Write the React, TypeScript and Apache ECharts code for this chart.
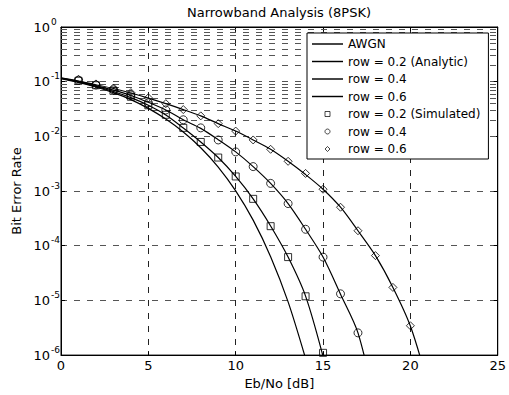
import React, { useEffect, useRef } from 'react';
import * as echarts from 'echarts';

// Eb/No points (dB)
const ebnoAwgn = [0, 1, 2, 3, 4, 5, 6, 7, 8, 9, 10, 11, 12, 13, 14];
const ebnoRow02 = [0, 1, 2, 3, 4, 5, 6, 7, 8, 9, 10, 11, 12, 13, 14, 15];
const ebnoRow04 = [0, 1, 2, 3, 4, 5, 6, 7, 8, 9, 10, 11, 12, 13, 14, 15, 16, 17, 18];
const ebnoRow06 = [0, 1, 2, 3, 4, 5, 6, 7, 8, 9, 10, 11, 12, 13, 14, 15, 16, 17, 18, 19, 20, 21];

// Analytic curves (BER)
const berAwgn = [0.114, 0.097, 0.080, 0.063, 0.047, 0.0325, 0.0207, 0.012, 0.0062, 0.00275, 0.00101, 2.94e-4, 6.3e-5, 9.4e-6, 8.7e-7];
const berRow02 = [0.115, 0.099, 0.082, 0.066, 0.051, 0.037, 0.0245, 0.0142, 0.0079, 0.0041, 0.00185, 7.2e-4, 2.3e-4, 6.2e-5, 1.2e-5, 9.5e-7];
const berRow04 = [0.116, 0.101, 0.085, 0.07, 0.056, 0.042, 0.0304, 0.0201, 0.014, 0.0087, 0.0052, 0.0028, 0.00138, 5.9e-4, 2.0e-4, 6.2e-5, 1.3e-5, 2.55e-6, 1.2e-7];
const berRow06 = [0.117, 0.103, 0.088, 0.075, 0.062, 0.05, 0.0396, 0.0309, 0.0237, 0.0171, 0.0125, 0.0086, 0.0058, 0.0035, 0.002, 0.00108, 5.06e-4, 1.88e-4, 6.6e-5, 1.73e-5, 3.4e-6, 3.0e-7];

// Simulated points
const simEbno02 = [1, 2, 3, 4, 5, 6, 7, 8, 9, 10, 11, 12, 13, 14, 15];
const simBer02 = [0.104, 0.086, 0.068, 0.053, 0.037, 0.0248, 0.0143, 0.0079, 0.0041, 0.00185, 7.2e-4, 2.28e-4, 6.2e-5, 1.19e-5, 1.1e-6];
const simEbno04 = [1, 2, 3, 4, 5, 6, 7, 8, 9, 10, 11, 12, 13, 14, 15, 16, 17];
const simBer04 = [0.106, 0.087, 0.071, 0.057, 0.041, 0.0304, 0.0201, 0.0143, 0.0086, 0.0052, 0.0028, 0.00138, 5.9e-4, 2.0e-4, 6.2e-5, 1.32e-5, 2.55e-6];
const simEbno06 = [1, 2, 3, 4, 5, 6, 7, 8, 9, 10, 11, 12, 13, 14, 15, 16, 17, 18, 19, 20];
const simBer06 = [0.111, 0.091, 0.0766, 0.063, 0.0507, 0.0396, 0.0309, 0.0237, 0.0171, 0.0125, 0.0086, 0.0058, 0.0035, 0.0021, 0.00108, 5.06e-4, 1.88e-4, 6.6e-5, 1.73e-5, 3.44e-6];

const names = [
  'AWGN',
  'row = 0.2 (Analytic)',
  'row = 0.4',
  'row = 0.6',
  'row = 0.2 (Simulated)',
  'row = 0.4 ',
  'row = 0.6 ',
];

const xTicks = { min: 0, max: 25, interval: 5 };
const decades = [-6, -5, -4, -3, -2, -1];
const mantissas = [2, 3, 4, 5, 6, 7, 8, 9];

const FONT = 'DejaVu Sans';
const LINE_ICON = 'path://M0,0H32V1.5H0Z';
const SQUARE_ICON = 'path://M0,0H10V10H0Z';
const CIRCLE_ICON = 'path://M5,0A5,5,0,1,1,4.99,0Z';
const DIAMOND_ICON = 'path://M5,0L10,5L5,10L0,5Z';

const zip = (xs: number[], ys: number[]) => xs.map((x, i) => [x, ys[i]]);

export default function App() {
  const ref = useRef<HTMLDivElement>(null);
  useEffect(() => {
    if (!ref.current) return;
    const chart = echarts.init(ref.current, undefined, { renderer: 'svg' });
    const minorGrid: number[] = [];
    decades.forEach((d) => mantissas.forEach((m) => minorGrid.push(m * Math.pow(10, d))));

    const lineSeries = (name: string, data: number[][]) => ({
      name,
      type: 'line',
      data,
      symbol: 'none',
      smooth: 0.3,
      clip: true,
      z: 3,
      lineStyle: { color: '#000', width: 1.2 },
      itemStyle: { color: '#000' },
    });
    const markSeries = (name: string, data: number[][], symbol: string, size: number) => ({
      name,
      type: 'scatter',
      data,
      symbol,
      symbolSize: size,
      clip: true,
      z: 3,
      itemStyle: { color: 'rgba(0,0,0,0)', borderColor: '#000', borderWidth: 1 },
    });

    const logAxisBase = { type: 'log', logBase: 10, min: 1e-6, max: 1, splitNumber: 6 };
    const lineIconStyle = { color: '#000', borderWidth: 0 };
    const markIconStyle = { color: 'rgba(0,0,0,0)', borderColor: '#000', borderWidth: 0.9 };

    chart.setOption({
      animation: false,
      backgroundColor: '#fff',
      title: {
        text: 'Narrowband Analysis (8PSK)',
        left: 187,
        top: 6,
        padding: 0,
        textStyle: { fontFamily: FONT, fontSize: 13, fontWeight: 'normal', color: '#000' },
      },
      grid: { left: 61, right: 11, top: 27, bottom: 33, show: true, borderColor: '#000', borderWidth: 1, backgroundColor: 'transparent' },
      legend: {
        z: 10,
        data: [
          { name: names[0], icon: LINE_ICON, itemStyle: lineIconStyle },
          { name: names[1], icon: LINE_ICON, itemStyle: lineIconStyle },
          { name: names[2], icon: LINE_ICON, itemStyle: lineIconStyle },
          { name: names[3], icon: LINE_ICON, itemStyle: lineIconStyle },
          { name: names[4], icon: SQUARE_ICON, itemStyle: markIconStyle },
          { name: names[5], icon: CIRCLE_ICON, itemStyle: markIconStyle },
          { name: names[6], icon: DIAMOND_ICON, itemStyle: markIconStyle },
        ],
        orient: 'vertical',
        left: 307,
        top: 33,
        backgroundColor: '#fff',
        borderColor: '#000',
        borderWidth: 1,
        padding: [4, 8, 3, 5],
        itemWidth: 31,
        itemHeight: 5,
        itemGap: 3.5,
        symbolKeepAspect: true,
        selectedMode: false,
        formatter: (n: string) => n.trim(),
        textStyle: { fontFamily: FONT, fontSize: 12, color: '#000', lineHeight: 14 },
      },
      xAxis: [
        {
          type: 'value',
          ...xTicks,
          name: 'Eb/No [dB]',
          nameLocation: 'middle',
          nameGap: 19,
          nameTextStyle: { fontFamily: FONT, fontSize: 13, color: '#000', verticalAlign: 'top' },
          axisLine: { show: true, lineStyle: { color: '#000', width: 1 } },
          axisTick: { show: true, inside: true, length: 4, lineStyle: { color: '#000' } },
          axisLabel: { fontFamily: FONT, fontSize: 13, color: '#000', margin: 4 },
          splitLine: { show: true, lineStyle: { color: '#222', width: 1, type: [6, 7] } },
        },
        {
          type: 'value',
          ...xTicks,
          position: 'top',
          axisLine: { show: true, lineStyle: { color: '#000' } },
          axisTick: { show: true, inside: true, length: 4, lineStyle: { color: '#000' } },
          axisLabel: { show: false },
          splitLine: { show: false },
        },
      ],
      yAxis: [
        {
          ...logAxisBase,
          name: 'Bit Error Rate',
          nameLocation: 'middle',
          nameGap: 35,
          nameTextStyle: { fontFamily: FONT, fontSize: 13, color: '#000' },
          axisLine: { show: true, lineStyle: { color: '#000', width: 1 } },
          axisTick: { show: true, inside: true, length: 4, lineStyle: { color: '#000' } },
          axisLabel: {
            margin: 11,
            fontFamily: FONT,
            fontSize: 13,
            color: '#000',
            verticalAlign: 'middle',
            padding: [2, 0, 0, 0],
            formatter: () => '10',
          },
          splitLine: { show: true, lineStyle: { color: '#555', width: 1, type: [6, 7] } },
        },
        {
          ...logAxisBase,
          position: 'left',
          axisLine: { show: false },
          axisTick: { show: false },
          splitLine: { show: false },
          axisLabel: {
            margin: 10,
            align: 'left',
            verticalAlign: 'bottom',
            padding: [0, 0, 1, 0],
            fontFamily: FONT,
            fontSize: 9,
            color: '#000',
            formatter: (v: number) => String(Math.round(Math.log10(v))),
          },
        },
        {
          ...logAxisBase,
          position: 'right',
          axisLine: { show: true, lineStyle: { color: '#000' } },
          axisTick: { show: true, inside: true, length: 4, lineStyle: { color: '#000' } },
          axisLabel: { show: false },
          splitLine: { show: false },
        },
      ],
      series: [
        {
          name: 'grid',
          type: 'line',
          data: [],
          z: 1,
          silent: true,
          markLine: {
            z: 1,
            silent: true,
            symbol: ['none', 'none'],
            label: { show: false },
            lineStyle: { color: '#555', width: 1, type: [6, 7] },
            emphasis: { disabled: true },
            data: minorGrid.map((v) => ({ yAxis: v })),
          },
        },
        lineSeries(names[0], zip(ebnoAwgn, berAwgn)),
        lineSeries(names[1], zip(ebnoRow02, berRow02)),
        lineSeries(names[2], zip(ebnoRow04, berRow04)),
        lineSeries(names[3], zip(ebnoRow06, berRow06)),
        markSeries(names[4], zip(simEbno02, simBer02), 'rect', 7),
        markSeries(names[5], zip(simEbno04, simBer04), 'circle', 8),
        markSeries(names[6], zip(simEbno06, simBer06), 'diamond', 8),
      ],
    });
    return () => chart.dispose();
  }, []);
  return <div ref={ref} style={{ position: 'absolute', left: 0, top: 0, width: 509, height: 395 }} />;
}
